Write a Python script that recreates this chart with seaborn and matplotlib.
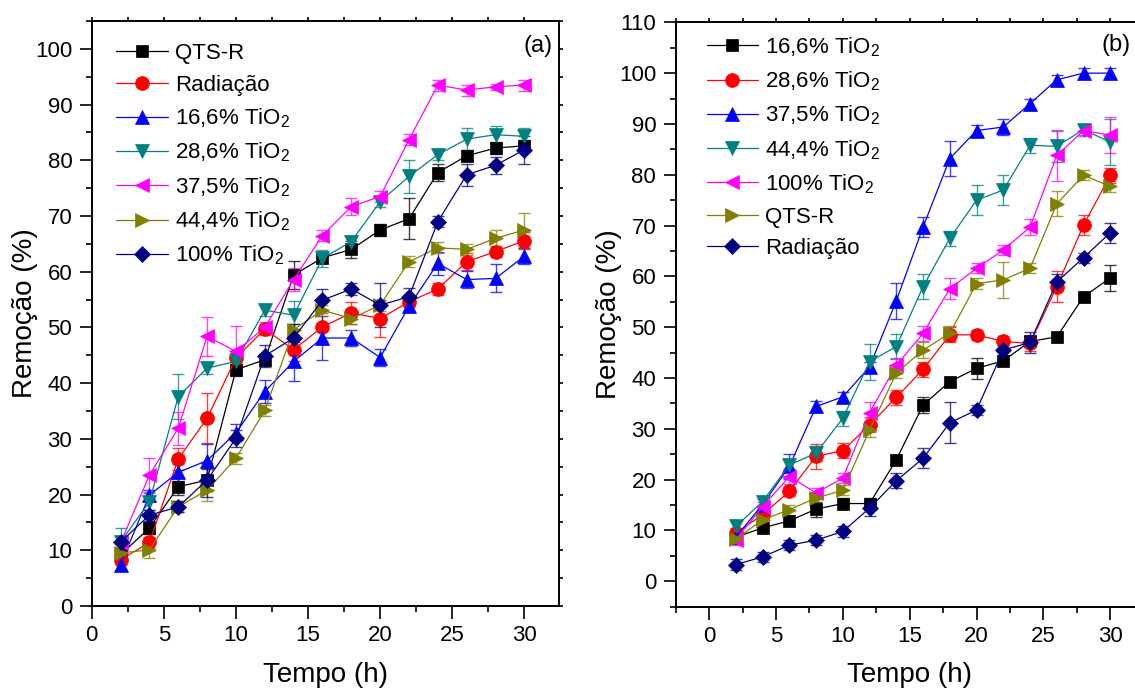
import matplotlib
matplotlib.use("Agg")
import matplotlib.pyplot as plt
from matplotlib.ticker import MultipleLocator, AutoMinorLocator
import numpy as np
import pandas as pd
import seaborn as sns

# ---- data -------------------------------------------------------------
tempo = [2, 4, 6, 8, 10, 12, 14, 16, 18, 20, 22, 24, 26, 28, 30]

# panel (a)
labels_a = ["QTS-R", "Radiação", "16,6% TiO$_2$", "28,6% TiO$_2$",
            "37,5% TiO$_2$", "44,4% TiO$_2$", "100% TiO$_2$"]
qtsr_a = [9.2, 14.0, 21.4, 22.6, 42.4, 44.2, 59.4, 62.5, 64.0, 67.5, 69.5, 77.8, 80.8, 82.2, 82.6]
rad_a = [8.3, 11.4, 26.4, 33.7, 44.5, 49.7, 46.0, 50.1, 52.6, 51.6, 54.6, 56.9, 61.8, 63.6, 65.6]
ti166_a = [7.4, 19.9, 24.0, 26.1, 31.1, 38.5, 43.9, 48.1, 48.1, 44.6, 53.8, 61.5, 58.6, 58.8, 62.8]
ti286_a = [11.5, 18.7, 37.6, 42.7, 43.9, 53.1, 52.2, 62.4, 65.4, 72.6, 77.1, 81.0, 83.8, 84.6, 84.3]
ti375_a = [11.3, 23.5, 31.9, 48.4, 45.7, 50.0, 58.6, 66.5, 71.7, 73.5, 83.7, 93.5, 92.6, 93.2, 93.5]
ti444_a = [9.5, 10.1, 17.8, 20.8, 26.5, 35.1, 49.6, 53.1, 51.6, 54.0, 61.8, 64.3, 64.0, 66.0, 67.5]
ti100_a = [11.5, 16.3, 17.8, 22.6, 30.1, 44.9, 48.1, 54.9, 56.9, 54.0, 55.5, 69.0, 77.4, 79.1, 81.9]

err_qtsr_a = [1, 1, 1.5, 2, 1, 1, 2.5, 1, 1.5, 1, 3.7, 1.5, 1, 1, 1]
err_rad_a = [1, 1, 2, 4.5, 1, 1, 2, 2.5, 2, 3.3, 1, 1, 1.5, 1, 1.5]
err_ti166_a = [1, 1, 1.5, 3, 1.5, 2, 3.5, 4, 1.5, 1.5, 1, 2, 1.5, 2.5, 1.5]
err_ti286_a = [2.5, 1.5, 4, 1, 1, 1, 2.5, 1.5, 1, 1, 3, 1, 2, 1.5, 1.5]
err_ti375_a = [1, 3, 3, 3.5, 4.5, 1, 2, 1, 1.5, 1, 1, 1, 1, 0.5, 1]
err_ti444_a = [1, 1.5, 1, 2, 1, 1, 1, 1, 1, 1, 1, 1, 1, 1.5, 3]
err_ti100_a = [1, 1, 1, 3, 1.5, 2, 2.5, 2, 1, 4, 1.5, 1, 2, 1.5, 2.5]

# panel (b)
labels_b = ["16,6% TiO$_2$", "28,6% TiO$_2$", "37,5% TiO$_2$", "44,4% TiO$_2$",
            "100% TiO$_2$", "QTS-R", "Radiação"]
ti166_b = [8.7, 10.5, 11.9, 14.2, 15.3, 15.3, 23.9, 34.7, 39.3, 41.9, 43.4, 47.2, 48.1, 56.0, 59.7]
ti286_b = [9.5, 13.1, 17.7, 24.6, 25.7, 30.8, 36.2, 41.7, 48.5, 48.5, 47.2, 46.8, 58.0, 70.1, 79.9]
ti375_b = [8.7, 15.1, 22.6, 34.4, 36.3, 42.2, 55.2, 69.7, 83.2, 88.7, 89.4, 94.0, 98.7, 100.0, 100.0]
ti444_b = [10.8, 15.7, 22.9, 25.2, 32.1, 43.2, 46.2, 58.0, 67.5, 75.0, 77.0, 85.8, 85.6, 88.9, 86.4]
ti100_b = [8.2, 14.7, 20.6, 17.4, 20.3, 33.2, 42.5, 48.8, 57.6, 61.6, 65.2, 69.7, 83.8, 88.7, 87.8]
qtsr_b = [8.3, 12.1, 14.1, 16.4, 17.9, 29.8, 41.0, 45.5, 48.8, 58.6, 59.3, 61.6, 74.3, 79.9, 77.7]
rad_b = [3.3, 4.8, 7.1, 8.1, 9.8, 14.4, 19.8, 24.2, 31.2, 33.7, 45.5, 47.0, 58.9, 63.7, 68.6]

err_ti166_b = [1, 1, 1, 1.5, 1, 1, 1, 1.5, 1, 2, 1, 1, 1, 1, 2.5]
err_ti286_b = [1, 1, 1, 2.5, 1.5, 1.5, 1.5, 1.5, 1.5, 1, 1, 1.5, 3, 2, 1.5]
err_ti375_b = [1, 1, 2.5, 1, 1, 1, 3.5, 2, 3.5, 1, 1.5, 1, 1, 1, 1]
err_ti444_b = [1, 1, 1, 1.5, 1.5, 3.5, 2.5, 2.5, 1.5, 3, 3, 1.5, 3, 1, 4.5]
err_ti100_b = [1, 1, 1.5, 1, 1, 2, 1.5, 1.5, 2, 1, 1, 1.5, 5, 1, 3.5]
err_qtsr_b = [1, 1, 1, 1, 1, 1.5, 1, 1.5, 1.5, 1, 3.5, 1, 2.5, 1, 1]
err_rad_b = [1, 1, 1, 1, 1, 1.5, 1.5, 2, 4, 1, 1, 2, 1.5, 1, 2]

# same colour / marker order in both panels
cores = ["#000000", "#FF0000", "#0000FF", "#008080", "#FF00FF", "#808000", "#000080"]
marcadores = ["s", "o", "^", "v", "<", ">", "D"]
tamanhos = [9, 10, 10.5, 10.5, 10.5, 10.5, 8.5]

series_a = [qtsr_a, rad_a, ti166_a, ti286_a, ti375_a, ti444_a, ti100_a]
erros_a = [err_qtsr_a, err_rad_a, err_ti166_a, err_ti286_a, err_ti375_a, err_ti444_a, err_ti100_a]
series_b = [ti166_b, ti286_b, ti375_b, ti444_b, ti100_b, qtsr_b, rad_b]
erros_b = [err_ti166_b, err_ti286_b, err_ti375_b, err_ti444_b, err_ti100_b, err_qtsr_b, err_rad_b]

# ---- style ------------------------------------------------------------
sns.set_theme(style="ticks")
plt.rcParams["font.family"] = ["Liberation Sans", "DejaVu Sans"]
plt.rcParams["mathtext.fontset"] = "custom"
plt.rcParams["mathtext.rm"] = "Liberation Sans"
plt.rcParams["mathtext.it"] = "Liberation Sans:italic"
plt.rcParams["axes.linewidth"] = 1.4
plt.rcParams["axes.edgecolor"] = "black"
for k in ["text.color", "axes.labelcolor", "xtick.color", "ytick.color"]:
    plt.rcParams[k] = "black"

fig = plt.figure(figsize=(11.35, 6.91), dpi=100)
ax1 = fig.add_axes([0.0808, 0.123, 0.4117, 0.8466])
ax2 = fig.add_axes([0.5953, 0.122, 0.4124, 0.8457])


def desenha(ax, series, erros, labels):
    for i, (y, e, lab) in enumerate(zip(series, erros, labels)):
        df = pd.DataFrame({"Tempo": tempo, "Remocao": y})
        ax.errorbar(tempo, y, yerr=e, fmt="none", ecolor=cores[i], elinewidth=1,
                    capsize=4, capthick=1, alpha=0.75, zorder=2)
        sns.lineplot(data=df, x="Tempo", y="Remocao", ax=ax, color=cores[i],
                     marker=marcadores[i], markersize=tamanhos[i], linewidth=0.9,
                     markeredgecolor=cores[i], markeredgewidth=0.5, label=lab,
                     zorder=3)
    ax.set_xlabel("Tempo (h)", fontsize=20, labelpad=11)
    ax.set_ylabel("Remoção (%)", fontsize=20, labelpad=-2)
    ax.xaxis.set_major_locator(MultipleLocator(5))
    ax.yaxis.set_major_locator(MultipleLocator(10))
    ax.xaxis.set_minor_locator(AutoMinorLocator(2))
    ax.yaxis.set_minor_locator(AutoMinorLocator(2))
    ax.tick_params(which="major", direction="out", length=9, width=1.2,
                   labelsize=16, pad=5, bottom=True, left=True)
    ax.tick_params(which="minor", direction="out", length=4.5, width=1.2,
                   bottom=True, left=True)
    ax.tick_params(axis="x", which="both", top=True, labeltop=False)
    ax.tick_params(axis="y", which="both", right=True, labelright=False)
    for lado in ["top", "right"]:
        ax.spines[lado].set_linewidth(1.4)
    leg = ax.legend(frameon=False, fontsize=16, handlelength=2.3, handletextpad=0.35,
                    labelspacing=0.48, borderpad=0, borderaxespad=0, loc="upper left")
    return leg


desenha(ax1, series_a, erros_a, labels_a)
desenha(ax2, series_b, erros_b, labels_b)

# top/right ticks kept short
for ax in (ax1, ax2):
    for t in ax.xaxis.get_major_ticks() + ax.xaxis.get_minor_ticks():
        t.tick2line.set_markersize(3)
    for t in ax.yaxis.get_major_ticks() + ax.yaxis.get_minor_ticks():
        t.tick2line.set_markersize(3)

ax1.set_xlim(0, 32.4)
ax1.set_ylim(0, 105)
ax2.set_xlim(-2.5, 32.5)
ax2.set_ylim(-5, 110)

ax1.legend_.set_bbox_to_anchor((0.053, 0.962), transform=ax1.transAxes)
ax2.legend_.set_bbox_to_anchor((0.066, 0.978), transform=ax2.transAxes)

ax1.text(0.987, 0.958, "(a)", transform=ax1.transAxes, ha="right", va="center", fontsize=17)
ax2.text(0.973, 0.961, "(b)", transform=ax2.transAxes, ha="right", va="center", fontsize=17)

fig.savefig("out.png", dpi=100)
